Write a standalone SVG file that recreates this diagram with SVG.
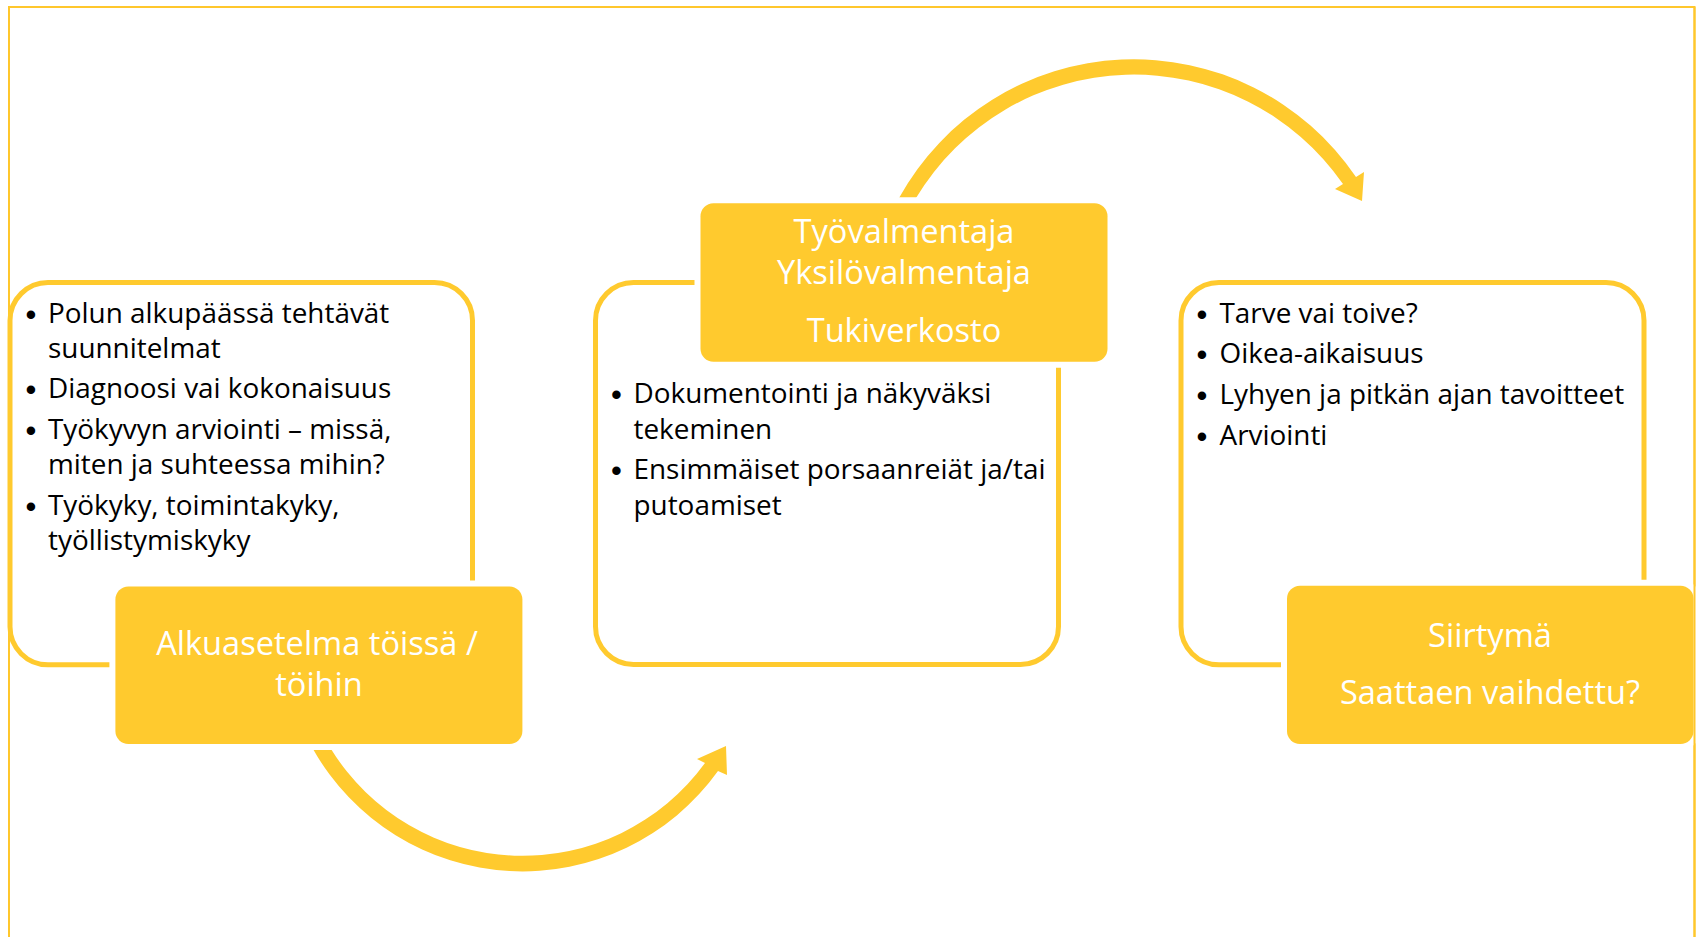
<svg xmlns="http://www.w3.org/2000/svg" width="1696" height="937" viewBox="0 0 1696 937">
<style>
.outline{fill:#ffffff;stroke:#FFCA2E;stroke-width:5}
.tag{fill:#FFCA2E}
.halo{fill:#ffffff}
.body{font-family:"Open Sans","Liberation Sans",sans-serif;font-size:27.9px;fill:#000000}
.bul{font-family:"Liberation Sans",Arial,sans-serif;font-size:31px;fill:#000000;text-anchor:middle}
.title{font-family:"Open Sans","Liberation Sans",sans-serif;font-size:32.6px;fill:#ffffff;text-anchor:middle}
.arrow{fill:#FFCA2E}
.frame{fill:none;stroke:#FFC72C;stroke-width:2}
</style>
<rect x="0" y="0" width="1696" height="937" fill="#ffffff"/>
<path class="frame" d="M9 945 L9 7 L1694.5 7 L1694.5 945"/>

<g id="connectors">
<path class="arrow" d="M313 749 L331 749 A225.4 225.4 0 0 0 705 763 L697 759 L726 746 L727 775 L718 771 A240.5 240.5 0 0 1 313 749 Z"/>
<path class="arrow" d="M899 198 A268.3 268.3 0 0 1 1356 177 L1364 172 L1362 201 L1335 189 L1343 184 A254.3 254.3 0 0 0 916 198 Z"/>
</g>

<g id="node-alkuasetelma">
<rect class="outline" x="10" y="282.5" width="462.5" height="382.3" rx="38"/>
<text class="bul" x="31" y="325">•</text>
<text class="body" x="48" y="323">Polun alkupäässä tehtävät</text>
<text class="body" x="48" y="358">suunnitelmat</text>
<text class="bul" x="31" y="400">•</text>
<text class="body" x="48" y="398">Diagnoosi vai kokonaisuus</text>
<text class="bul" x="31" y="441">•</text>
<text class="body" x="48" y="439">Työkyvyn arviointi – missä,</text>
<text class="body" x="48" y="474">miten ja suhteessa mihin?</text>
<text class="bul" x="31" y="517">•</text>
<text class="body" x="48" y="515">Työkyky, toimintakyky,</text>
<text class="body" x="48" y="550">työllistymiskyky</text>
<rect class="halo" x="109.4" y="580.5" width="419" height="169.5" rx="18"/>
<rect class="tag" x="115.4" y="586.5" width="407" height="157.5" rx="13"/>
<text class="title" x="317" y="655">Alkuasetelma töissä /</text>
<text class="title" x="319" y="696">töihin</text>
</g>

<g id="node-valmentaja">
<rect class="outline" x="595.5" y="282.5" width="463" height="382" rx="38"/>
<text class="bul" x="616.5" y="405">•</text>
<text class="body" x="633.5" y="403">Dokumentointi ja näkyväksi</text>
<text class="body" x="633.5" y="439">tekeminen</text>
<text class="bul" x="616.5" y="481">•</text>
<text class="body" x="633.5" y="479">Ensimmäiset porsaanreiät ja/tai</text>
<text class="body" x="633.5" y="515">putoamiset</text>
<rect class="halo" x="694.5" y="197.3" width="419" height="170.4" rx="18"/>
<rect class="tag" x="700.5" y="203.3" width="407" height="158.4" rx="13"/>
<text class="title" x="904" y="243">Työvalmentaja</text>
<text class="title" x="904" y="284">Yksilövalmentaja</text>
<text class="title" x="904" y="342">Tukiverkosto</text>
</g>

<g id="node-siirtyma">
<rect class="outline" x="1181" y="282.5" width="463" height="382.3" rx="38"/>
<text class="bul" x="1202" y="325">•</text>
<text class="body" x="1219.5" y="323">Tarve vai toive?</text>
<text class="bul" x="1202" y="365">•</text>
<text class="body" x="1219.5" y="363">Oikea-aikaisuus</text>
<text class="bul" x="1202" y="406">•</text>
<text class="body" x="1219.5" y="404">Lyhyen ja pitkän ajan tavoitteet</text>
<text class="bul" x="1202" y="447">•</text>
<text class="body" x="1219.5" y="445">Arviointi</text>
<rect class="halo" x="1281" y="579.8" width="418.5" height="170.2" rx="18"/>
<rect class="tag" x="1287" y="585.8" width="406.5" height="158.2" rx="13"/>
<text class="title" x="1490" y="647">Siirtymä</text>
<text class="title" x="1490" y="704">Saattaen vaihdettu?</text>
</g>

<path class="frame" d="M1694.5 7 L1694.5 945"/>
</svg>
